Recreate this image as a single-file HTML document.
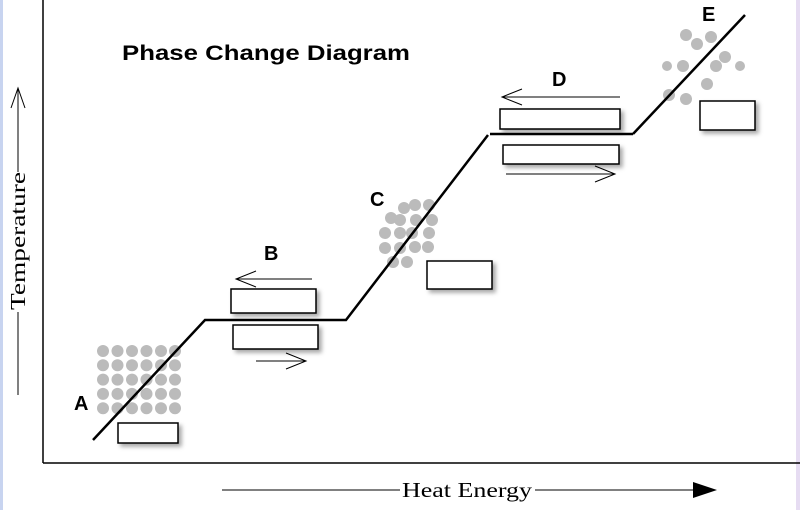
<!DOCTYPE html><html><head><style>body{margin:0;width:800px;height:510px;overflow:hidden;background:#fff}</style></head><body>
<svg width="800" height="510" xmlns="http://www.w3.org/2000/svg" font-family="Liberation Sans, sans-serif">
<defs><filter id="sh" x="-20%" y="-30%" width="150%" height="170%"><feDropShadow dx="3" dy="3" stdDeviation="2" flood-color="#000" flood-opacity="0.35"/></filter></defs>
<rect x="0" y="0" width="3" height="510" fill="#c8d4f0"/>
<rect x="796" y="0" width="4" height="510" fill="#e6dcf2"/>
<line x1="43" y1="0" x2="43" y2="463" stroke="#000" stroke-width="1.5"/>
<line x1="43" y1="463" x2="800" y2="463" stroke="#000" stroke-width="1.5"/>
<text x="122" y="60" font-size="21" font-weight="bold" textLength="288" lengthAdjust="spacingAndGlyphs">Phase Change Diagram</text>
<line x1="18" y1="88" x2="18" y2="172" stroke="#000"/><line x1="18" y1="312" x2="18" y2="395" stroke="#000"/>
<polyline points="11,108 18,88 25,108" fill="none" stroke="#000"/>
<text transform="translate(25,310) rotate(-90)" font-family="Liberation Serif, serif" font-size="21" textLength="138" lengthAdjust="spacingAndGlyphs">Temperature</text>
<line x1="222" y1="490" x2="400" y2="490" stroke="#000"/>
<text x="402" y="497" font-family="Liberation Serif, serif" font-size="21" textLength="130" lengthAdjust="spacingAndGlyphs">Heat Energy</text>
<line x1="535" y1="490" x2="693" y2="490" stroke="#000"/>
<polygon points="693,482 717,490 693,498" fill="#000"/>
<g fill="#bbb">
<g id="row"><circle cx="103" cy="351" r="6"/><circle cx="117.5" cy="351" r="6"/><circle cx="132" cy="351" r="6"/><circle cx="146.5" cy="351" r="6"/><circle cx="161" cy="351" r="6"/><circle cx="175" cy="351" r="6"/></g>
<use href="#row" y="14.3"/><use href="#row" y="28.6"/><use href="#row" y="42.9"/><use href="#row" y="57.2"/>
<circle cx="404" cy="208" r="6"/><circle cx="415" cy="205" r="6"/><circle cx="429" cy="205" r="6"/><circle cx="391" cy="218" r="6"/><circle cx="400" cy="220" r="6"/><circle cx="416" cy="220" r="6"/><circle cx="432" cy="220" r="6"/><circle cx="385" cy="233" r="6"/><circle cx="400" cy="233" r="6"/><circle cx="412" cy="233" r="6"/><circle cx="429" cy="233" r="6"/><circle cx="385" cy="248" r="6"/><circle cx="400" cy="248" r="6"/><circle cx="415" cy="247" r="6"/><circle cx="428" cy="247" r="6"/><circle cx="393" cy="262" r="6"/><circle cx="407" cy="262" r="6"/>
<circle cx="686" cy="35" r="6"/><circle cx="697" cy="44" r="6"/><circle cx="711" cy="37" r="6"/><circle cx="667" cy="66" r="5"/><circle cx="683" cy="66" r="6"/><circle cx="716" cy="66" r="6"/><circle cx="725" cy="57" r="6"/><circle cx="740" cy="66" r="5"/><circle cx="707" cy="84" r="6"/><circle cx="669" cy="95" r="6"/><circle cx="686" cy="99" r="6"/>
</g>
<polyline points="93,440 205,320 346,320 488,135" fill="none" stroke="#000" stroke-width="2.5"/>
<line x1="490" y1="134" x2="633" y2="134" stroke="#000" stroke-width="2.5"/>
<line x1="633" y1="134" x2="745" y2="15" stroke="#000" stroke-width="2.5"/>
<g fill="#fff" stroke="#000" stroke-width="1.5" filter="url(#sh)">
<rect x="118" y="423" width="60" height="20"/><rect x="231" y="289" width="85" height="24"/><rect x="233" y="325" width="85" height="24"/>
<rect x="427" y="261" width="65" height="28"/><rect x="500" y="109" width="120" height="20"/><rect x="503" y="145" width="116" height="19"/><rect x="700" y="101" width="55" height="29"/>
</g>
<g stroke="#000" fill="none" stroke-width="1">
<line x1="236" y1="279" x2="312" y2="279"/><polyline points="256,271 236,279 256,287"/>
<line x1="256" y1="361" x2="306" y2="361"/><polyline points="286,353 306,361 286,369"/>
<line x1="502" y1="97" x2="620" y2="97"/><polyline points="522,89 502,97 522,105"/>
<line x1="506" y1="174" x2="615" y2="174"/><polyline points="595,166 615,174 595,182"/>
</g>
<g font-size="20" font-weight="bold">
<text x="74" y="410">A</text><text x="264" y="260">B</text><text x="370" y="206">C</text><text x="552" y="86">D</text><text x="702" y="21">E</text>
</g>
</svg></body></html>
